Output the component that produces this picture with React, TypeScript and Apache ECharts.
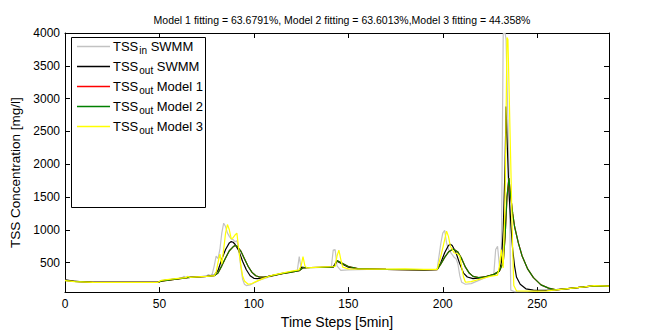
import React, { useEffect, useRef } from "react";
import * as echarts from "echarts";

const FONT = "'Liberation Sans', Arial, Helvetica, sans-serif";

const titleText =
  "Model 1 fitting = 63.6791%, Model 2 fitting = 63.6013%,Model 3 fitting = 44.358%";
const xAxisName = "Time Steps [5min]";
const yAxisName = "TSS Concentration [mg/l]";

const xTicks = [0, 50, 100, 150, 200, 250];
const yTicks = [500, 1000, 1500, 2000, 2500, 3000, 3500, 4000];

const seriesNames = ["TSSin SWMM", "TSSout SWMM", "TSSout Model 1", "TSSout Model 2", "TSSout Model 3"];
const legendSub = ["in", "out", "out", "out", "out"];
const legendRest = ["SWMM", "SWMM", "Model 1", "Model 2", "Model 3"];
const seriesColors = ["#c2c2c2", "#000000", "#ff0000", "#008000", "#ffff00"];

const tssIn: [number, number][] = [
  [0, 235], [3, 225], [8, 210], [15, 200], [30, 198], [49, 198], [51, 225], [55, 240], [60, 255],
  [62, 270], [63, 290], [64, 275], [68, 280], [72, 285], [75, 300], [76, 320], [77, 300], [78, 330],
  [79, 450], [80, 600], [81, 560], [82, 700], [83, 950], [84, 1100], [85, 1050], [86, 950], [87, 900],
  [88, 860], [89, 850], [90, 820], [91, 830], [92, 700], [93, 450], [94, 250], [95, 170], [96, 150],
  [98, 160], [100, 190], [103, 230], [108, 280], [115, 330], [120, 360], [123, 380], [124, 590],
  [125, 420], [127, 410], [130, 420], [135, 425], [141, 430], [142, 690], [143, 700], [144, 450],
  [146, 380], [150, 390], [160, 395], [170, 395], [180, 395], [190, 390], [197, 395], [198, 600],
  [199, 800], [200, 950], [201, 990], [202, 800], [203, 700], [204, 660], [205, 620], [206, 580],
  [207, 560], [208, 480], [209, 300], [210, 200], [212, 170], [215, 180], [220, 240], [225, 300],
  [227, 320], [228, 700], [229, 750], [230, 450], [231, 600], [232, 3990], [233, 4000], [233.5, 3900],
  [235, 2000], [236, 80], [238, 55], [245, 58], [255, 68], [265, 100], [275, 130], [280, 145], [288, 140],
];

const tssOutSwmm: [number, number][] = [
  [0, 235], [5, 215], [15, 200], [49, 198], [51, 220], [55, 235], [60, 255], [65, 275], [70, 282],
  [75, 290], [79, 310], [81, 380], [83, 550], [85, 700], [87, 800], [88, 820], [89, 810], [90, 780],
  [92, 680], [94, 520], [96, 390], [98, 300], [100, 260], [102, 255], [105, 270], [110, 305],
  [115, 335], [120, 360], [124, 380], [125, 430], [127, 425], [135, 425], [142, 435], [143, 480],
  [144, 520], [146, 490], [150, 430], [155, 405], [170, 395], [190, 390], [197, 395], [199, 500],
  [201, 650], [203, 760], [204, 780], [205, 760], [207, 650], [209, 480], [211, 340], [213, 280],
  [216, 255], [220, 265], [225, 300], [228, 330], [230, 380], [231, 500], [232, 1000], [233, 2000],
  [233.5, 2880], [234, 2400], [235, 1600], [236, 1100], [237, 700], [238, 450], [239, 280],
  [241, 170], [244, 100], [248, 80], [255, 75], [265, 100], [275, 130], [280, 145], [288, 140],
];

const model1: [number, number][] = [
  [0, 230], [5, 212], [15, 200], [49, 198], [51, 215], [55, 232], [60, 250], [65, 270], [70, 280],
  [75, 288], [79, 300], [81, 340], [83, 450], [85, 570], [87, 680], [89, 740], [90, 760], [91, 750],
  [93, 680], [95, 560], [97, 440], [99, 350], [101, 300], [103, 280], [106, 280], [110, 300],
  [115, 330], [120, 355], [124, 375], [126, 420], [130, 425], [142, 430], [143, 470], [144, 530],
  [146, 500], [150, 440], [155, 410], [170, 395], [190, 390], [197, 393], [199, 480], [201, 580],
  [203, 660], [205, 700], [206, 700], [208, 660], [210, 560], [212, 430], [214, 340], [216, 290],
  [219, 270], [223, 285], [227, 320], [230, 370], [232, 500], [233, 900], [234, 1500], [235, 1790],
  [236, 1500], [237, 1250], [238, 1050], [240, 800], [242, 600], [245, 400], [248, 270], [252, 160],
  [256, 110], [260, 85], [265, 100], [275, 130], [280, 145], [288, 140],
];

const model2: [number, number][] = [
  [0, 230], [5, 212], [15, 200], [49, 198], [51, 215], [55, 232], [60, 250], [65, 270], [70, 280],
  [75, 288], [79, 300], [81, 340], [83, 450], [85, 570], [87, 680], [89, 740], [90, 760], [91, 750],
  [93, 680], [95, 560], [97, 440], [99, 350], [101, 300], [103, 280], [106, 280], [110, 300],
  [115, 330], [120, 355], [124, 375], [126, 420], [130, 425], [142, 430], [143, 470], [144, 530],
  [146, 500], [150, 440], [155, 410], [170, 395], [190, 390], [197, 393], [199, 480], [201, 580],
  [203, 660], [205, 700], [206, 700], [208, 660], [210, 560], [212, 430], [214, 340], [216, 290],
  [219, 270], [223, 285], [227, 320], [230, 370], [232, 500], [233, 900], [234, 1500], [235, 1790],
  [236, 1500], [237, 1250], [238, 1050], [240, 800], [242, 600], [245, 400], [248, 270], [252, 160],
  [256, 110], [260, 85], [265, 100], [275, 130], [280, 145], [288, 140],
];

const model3: [number, number][] = [
  [0, 225], [5, 210], [15, 198], [49, 196], [51, 230], [55, 245], [60, 260], [64, 270], [65, 290],
  [66, 275], [70, 282], [75, 290], [79, 300], [80, 350], [81, 500], [82, 630], [83, 480], [84, 700],
  [85, 950], [86, 1080], [87, 1000], [88, 860], [89, 880], [90, 920], [91, 950], [92, 700], [93, 480],
  [94, 300], [95, 220], [97, 170], [99, 180], [101, 210], [105, 260], [110, 310], [115, 340],
  [120, 370], [124, 390], [125, 450], [126, 590], [127, 450], [128, 420], [135, 430], [143, 440],
  [144, 600], [145, 690], [146, 550], [147, 430], [150, 405], [160, 400], [170, 400], [180, 405],
  [190, 395], [197, 395], [199, 600], [201, 850], [202, 980], [203, 900], [204, 750], [205, 700],
  [206, 650], [208, 630], [209, 600], [210, 430], [211, 280], [212, 200], [215, 210], [220, 250],
  [225, 290], [229, 310], [230, 450], [231, 700], [232, 420], [233, 1500], [234, 3930], [234.5, 3900],
  [236, 2000], [237, 700], [237.6, 150], [239, 70], [250, 65], [255, 70], [265, 100], [275, 130],
  [280, 150], [288, 140],
];

const seriesData = [tssIn, tssOutSwmm, model1, model2, model3];

export default function App() {
  const ref = useRef<HTMLDivElement>(null);
  useEffect(() => {
    if (!ref.current) return;
    const chart = echarts.init(ref.current, undefined, { renderer: "svg" });
    const axisLine = { show: true, onZero: false, lineStyle: { color: "#000", width: 1 } };
    const tickStyle = { color: "#000", width: 1 };
    const plain = (v: number) => String(v);
    chart.setOption({
      animation: false,
      backgroundColor: "#fff",
      title: {
        text: titleText,
        left: 337,
        top: 9,
        textAlign: "center",
        textStyle: { fontFamily: FONT, fontSize: 10.5, fontWeight: "normal", color: "#000" },
      },
      grid: { left: 65, right: 40, top: 33, bottom: 37, containLabel: false },
      xAxis: [
        {
          type: "value", min: 0, max: 288, position: "bottom",
          axisLine,
          axisTick: { show: true, inside: true, length: 5, customValues: xTicks, lineStyle: tickStyle },
          axisLabel: { customValues: xTicks, formatter: plain, color: "#000", fontSize: 12, fontFamily: FONT, margin: 6 },
          splitLine: { show: false },
          name: xAxisName, nameLocation: "middle", nameGap: 19,
          nameTextStyle: { fontFamily: FONT, fontSize: 14, color: "#000" },
        },
        {
          type: "value", min: 0, max: 288, position: "top",
          axisLine,
          axisTick: { show: true, inside: true, length: 5, customValues: xTicks, lineStyle: tickStyle },
          axisLabel: { show: false },
          splitLine: { show: false },
        },
      ],
      yAxis: [
        {
          type: "value", min: 50, max: 4000, position: "left",
          axisLine,
          axisTick: { show: true, inside: true, length: 5, customValues: yTicks, lineStyle: tickStyle },
          axisLabel: { customValues: yTicks, formatter: plain, color: "#000", fontSize: 12, fontFamily: FONT, margin: 5 },
          splitLine: { show: false },
          name: yAxisName, nameLocation: "middle", nameGap: 37,
          nameTextStyle: { fontFamily: FONT, fontSize: 13.5, color: "#000", padding: [0, 20, 0, 0] },
        },
        {
          type: "value", min: 50, max: 4000, position: "right",
          axisLine,
          axisTick: { show: true, inside: true, length: 5, customValues: yTicks, lineStyle: tickStyle },
          axisLabel: { show: false },
          splitLine: { show: false },
        },
      ],
      graphic: [
        {
          type: "rect",
          z: 3,
          shape: { x: 71.5, y: 37.5, width: 134, height: 170 },
          style: { fill: "#fff", stroke: "#000", lineWidth: 1 },
        },
      ],
      legend: {
        orient: "vertical",
        left: 71,
        top: 38,
        z: 5,
        padding: [2, 4, 4, 6],
        icon: "rect",
        itemWidth: 33,
        itemHeight: 1.3,
        itemGap: 4.5,
        data: seriesNames,
        formatter: (name: string) => {
          const i = seriesNames.indexOf(name);
          return `{m|TSS}{s|${legendSub[i]}}{m| ${legendRest[i]}}`;
        },
        textStyle: {
          color: "#000",
          fontFamily: FONT,
          fontSize: 13,
          padding: [0, 0, 0, -2],
          rich: {
            m: { fontFamily: FONT, fontSize: 13, color: "#000" },
            s: { fontFamily: FONT, fontSize: 10, color: "#000", padding: [8, 0, 0, 1] },
          },
        },
      },
      series: seriesNames.map((name, i) => ({
        name,
        type: "line",
        data: seriesData[i],
        xAxisIndex: 0,
        yAxisIndex: 0,
        symbol: "none",
        showSymbol: false,
        z: 2,
        color: seriesColors[i],
        lineStyle: { color: seriesColors[i], width: 1.2 },
      })),
    });
    return () => chart.dispose();
  }, []);
  return (
    <div
      ref={ref}
      style={{ position: "fixed", left: 0, top: 0, width: 649, height: 334, background: "#fff" }}
    />
  );
}
